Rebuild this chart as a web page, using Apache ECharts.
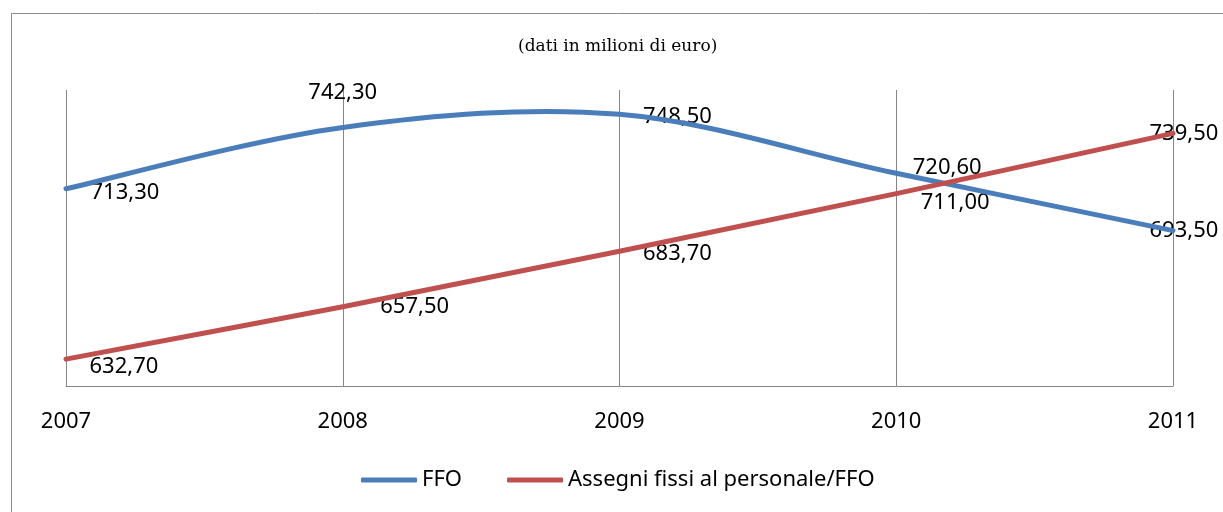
<!DOCTYPE html>
<html>
<head>
<meta charset="utf-8">
<script src="https://cdn.jsdelivr.net/npm/echarts@6/dist/echarts.min.js"></script>
<style>
  html, body { margin: 0; padding: 0; background: #fff; }
  #chart { width: 1223px; height: 512px; }
</style>
</head>
<body>
<div id="chart"></div>
<script>
// dati
var anni = ['2007', '2008', '2009', '2010', '2011'];
var ffo = [713.3, 742.3, 748.5, 720.6, 693.5];
var assegni = [632.7, 657.5, 683.7, 711.0, 739.5];
var nomiSerie = ['FFO', 'Assegni fissi al personale/FFO'];

// posizione etichette (come nel grafico Excel)
var posFfo = [
  { position: 'right', distance: 24, offset: [0, 4] },
  { position: 'top', distance: 23, offset: [0, 0] },
  { position: 'right', distance: 23, offset: [0, 2] },
  { position: 'right', distance: 16, offset: [0, -6] },
  { position: 'right', distance: 0, offset: [-24, 0] }
];
var posAssegni = [
  { position: 'right', distance: 23, offset: [0, 8] },
  { position: 'right', distance: 37, offset: [0, 0] },
  { position: 'right', distance: 23, offset: [0, 2] },
  { position: 'right', distance: 24, offset: [0, 9] },
  { position: 'right', distance: 0, offset: [-24, 0] }
];

var font = '"Noto Sans", sans-serif';

function formatta(v) {
  return v.toFixed(2).replace('.', ',');
}

function creaDati(valori, pos) {
  return valori.map(function (v, i) {
    return { value: [i, v], label: pos[i] };
  });
}

// linea smussata stile Excel (bezier tipo Catmull-Rom)
function curva(valori, colore) {
  return function (params, api) {
    if (params.dataIndex !== 0) return null;
    var p = valori.map(function (v, i) { return api.coord([i, v]); });
    var n = p.length;
    var d = 'M' + p[0][0] + ',' + p[0][1];
    for (var i = 0; i < n - 1; i++) {
      var a = p[i - 1] || p[i];
      var b = p[i];
      var c = p[i + 1];
      var e = p[i + 2] || p[i + 1];
      var c1x = b[0] + (c[0] - a[0]) / 6, c1y = b[1] + (c[1] - a[1]) / 6;
      var c2x = c[0] - (e[0] - b[0]) / 6, c2y = c[1] - (e[1] - b[1]) / 6;
      d += ' C' + c1x + ',' + c1y + ' ' + c2x + ',' + c2y + ' ' + c[0] + ',' + c[1];
    }
    return {
      type: 'path',
      shape: { pathData: d },
      style: { fill: 'none', stroke: colore, lineWidth: 5, lineCap: 'round' }
    };
  };
}

function serieLinea(nome, valori, colore) {
  return {
    name: nome,
    type: 'custom',
    renderItem: curva(valori, colore),
    data: valori.map(function (v, i) { return [i, v]; }),
    itemStyle: { color: colore },
    z: 3
  };
}

function serieEtichette(nome, valori, pos) {
  return {
    name: nome + ' etichette',
    type: 'scatter',
    symbolSize: 1,
    data: creaDati(valori, pos),
    itemStyle: { color: 'rgba(255,255,255,0)' },
    label: {
      show: true,
      fontFamily: font,
      fontSize: 22,
      color: '#000000',
      opacity: 1,
      formatter: function (p) { return formatta(p.value[1]); }
    },
    z: 2
  };
}

var theChart = echarts.init(document.getElementById('chart'));
var option = {
  backgroundColor: '#ffffff',
  animation: false,
  title: {
    text: '(dati in milioni di euro)',
    left: 513,
    top: 33,
    textStyle: {
      fontFamily: '"DejaVu Serif", serif',
      fontWeight: 'normal',
      fontSize: 17,
      color: '#000'
    }
  },
  graphic: [{
    type: 'rect',
    left: 9,
    top: 11,
    shape: { width: 1400, height: 700 },
    style: { fill: 'none', stroke: '#8c8c8c', lineWidth: 1 },
    silent: true
  }],
  legend: {
    left: 356,
    top: 464,
    icon: 'roundRect',
    itemWidth: 56,
    itemHeight: 5,
    itemGap: 45,
    textStyle: { fontFamily: font, fontSize: 22, color: '#000' },
    data: nomiSerie
  },
  grid: { left: 66, right: 50, top: 90, bottom: 126 },
  xAxis: {
    type: 'category',
    data: anni,
    boundaryGap: false,
    axisLine: { lineStyle: { color: '#868686', width: 1 } },
    axisTick: { show: false },
    axisLabel: { margin: 25, fontFamily: font, fontSize: 22, color: '#000' },
    splitLine: { show: true, lineStyle: { color: '#868686', width: 1 } }
  },
  yAxis: {
    type: 'value',
    min: 620,
    max: 760,
    interval: 20,
    show: false
  },
  series: [
    serieLinea(nomiSerie[0], ffo, '#4a7ebb'),
    serieLinea(nomiSerie[1], assegni, '#c0504d'),
    serieEtichette(nomiSerie[0], ffo, posFfo),
    serieEtichette(nomiSerie[1], assegni, posAssegni)
  ]
};
theChart.setOption(option);
</script>
</body>
</html>
